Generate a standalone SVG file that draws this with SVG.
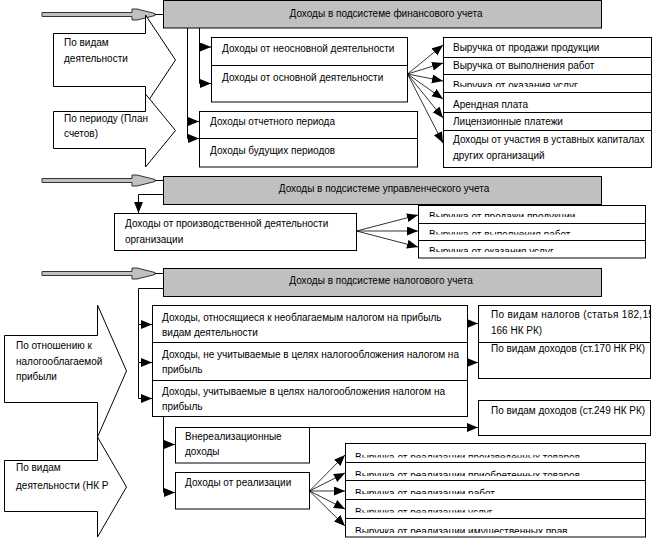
<svg xmlns="http://www.w3.org/2000/svg" width="653" height="543" viewBox="0 0 653 543">
<style>
text{font-family:"Liberation Sans",Arial,sans-serif;font-size:10px;fill:#000}
.hd{text-anchor:middle}
.box{fill:#fff;stroke:#000;stroke-width:1}
.gray{fill:#c0c0c0;stroke:#000;stroke-width:1}
.ln{fill:none;stroke:#000;stroke-width:1}
.fan{fill:none;stroke:#000;stroke-width:0.8}
.big{fill:#c0c0c0;stroke:#333;stroke-width:1}
.arr{marker-end:url(#ah)}
</style>
<defs>
<marker id="ah" markerUnits="userSpaceOnUse" markerWidth="12" markerHeight="10" refX="11" refY="4.5" orient="auto"><path d="M0,0 L11,4.5 L0,9 z" fill="#000"/></marker>
<path id="bigarrow" d="M42,-2 H132 V-5.5 H137 L155,-1 V1 L137,5.5 H132 V2 H42 Z"/>
<clipPath id="c1"><rect x="443" y="74" width="208" height="13"/></clipPath>
<clipPath id="c2a"><rect x="418" y="205" width="227" height="12"/></clipPath>
<clipPath id="c2b"><rect x="418" y="223" width="227" height="11.5"/></clipPath>
<clipPath id="c2c"><rect x="418" y="240" width="227" height="12"/></clipPath>
<clipPath id="c3a"><rect x="345" y="443" width="300" height="14.5"/></clipPath>
<clipPath id="c3b"><rect x="345" y="462" width="300" height="14"/></clipPath>
<clipPath id="c3c"><rect x="345" y="480" width="300" height="14"/></clipPath>
<clipPath id="c3d"><rect x="345" y="499" width="300" height="13.5"/></clipPath>
<clipPath id="c3e"><rect x="345" y="518" width="300" height="15"/></clipPath>
<clipPath id="cR"><rect x="478" y="300" width="172" height="140"/></clipPath>
</defs>

<!-- Section 1 -->
<g id="s1-arrow"><use href="#bigarrow" class="big" transform="translate(0,14.5)"/><line class="ln" x1="155" y1="14.5" x2="163" y2="14.5" stroke="#333"/></g>
<g id="s1-header"><rect class="gray" x="163.5" y="0.5" width="438" height="27.5"/><text class="hd" x="386" y="17">Доходы в подсистеме финансового учета</text></g>
<g id="s1-kind"><path class="box" d="M53.5,33.5 H145.5 V15 L175.5,60 L145.5,105 V86.5 H53.5 Z"/><text x="64" y="46">По видам</text><text x="64" y="62">деятельности</text></g>
<g id="s1-period"><path class="box" d="M53.5,111.5 H145.5 V94 L175.5,130.5 L145.5,167 V148.5 H53.5 Z"/><text x="64" y="122">По периоду (План</text><text x="64" y="137">счетов)</text></g>
<g id="s1-activity"><rect class="box" x="211.5" y="37.5" width="196" height="64.5"/><line class="ln" x1="211.5" y1="65.5" x2="407.5" y2="65.5"/><text x="222" y="52">Доходы от неосновной деятельности</text><text x="222" y="81">Доходы от основной деятельности</text></g>
<g id="s1-periods"><rect class="box" x="199.5" y="111.5" width="218" height="55.5"/><line class="ln" x1="199.5" y1="138.5" x2="417.5" y2="138.5"/><text x="210" y="125">Доходы отчетного периода</text><text x="210" y="154">Доходы будущих периодов</text></g>
<g id="s1-list"><rect class="box" x="443.5" y="37.5" width="208" height="130"/>
<path class="ln" d="M443.5,57.5 H651.5 M443.5,74.5 H651.5 M443.5,92.5 H651.5 M443.5,112.5 H651.5 M443.5,130.5 H651.5"/>
<text x="453" y="51">Выручка от продажи продукции</text>
<text x="453" y="69">Выручка от выполнения работ</text>
<text x="453" y="89" clip-path="url(#c1)">Выручка от оказания услуг</text>
<text x="453" y="108">Арендная плата</text>
<text x="453" y="125">Лицензионные платежи</text>
<text x="453" y="143">Доходы от участия в уставных капиталах</text>
<text x="453" y="159">других организаций</text></g>

<!-- Section 2 -->
<g id="s2-arrow"><use href="#bigarrow" class="big" transform="translate(0,180.5)"/><line class="ln" x1="155" y1="180.5" x2="163" y2="180.5" stroke="#333"/></g>
<g id="s2-header"><rect class="gray" x="163.5" y="176.5" width="438" height="28"/><text class="hd" x="384" y="192">Доходы в подсистеме управленческого учета</text></g>
<g id="s2-prod"><rect class="box" x="114.5" y="213.5" width="242" height="37"/><text x="125" y="227">Доходы от производственной деятельности</text><text x="125" y="243">организации</text></g>
<g id="s2-list"><rect class="box" x="418.5" y="205.5" width="227" height="52.5"/>
<path class="ln" d="M418.5,223.5 H645.5 M418.5,240.5 H645.5"/>
<text x="429" y="220" clip-path="url(#c2a)">Выручка от продажи продукции</text>
<text x="429" y="238" clip-path="url(#c2b)">Выручка от выполнения работ</text>
<text x="429" y="255" clip-path="url(#c2c)">Выручка от оказания услуг</text></g>

<!-- Section 3 -->
<g id="s3-arrow"><use href="#bigarrow" class="big" transform="translate(0,273.5)"/><line class="ln" x1="155" y1="273.5" x2="163" y2="273.5" stroke="#333"/></g>
<g id="s3-header"><rect class="gray" x="163.5" y="268.5" width="438" height="28"/><text class="hd" x="381" y="284">Доходы в подсистеме налогового учета</text></g>
<g id="s3-profit"><path class="box" d="M4.5,335.5 H97.5 V305 L126.5,371 L97.5,437 V402.5 H4.5 Z"/><text x="16" y="349">По отношению к</text><text x="16" y="365">налогооблагаемой</text><text x="16" y="380">прибыли</text></g>
<g id="s3-kind"><path class="box" d="M4.5,460.5 H97.5 V437 L126.5,487 L97.5,537 V511.5 H4.5 Z"/><text x="16" y="471">По видам</text><text x="16" y="489">деятельности (НК Р</text></g>
<g id="s3-tax"><rect class="box" x="152.5" y="305.5" width="315" height="111"/>
<path class="ln" d="M152.5,342.5 H467.5 M152.5,380.5 H467.5"/>
<text x="162" y="321">Доходы, относящиеся к необлагаемым налогом на прибыль</text>
<text x="162" y="336">видам деятельности</text>
<text x="162" y="358">Доходы, не учитываемые в целях налогообложения налогом на</text>
<text x="162" y="373">прибыль</text>
<text x="162" y="395">Доходы, учитываемые в целях налогообложения налогом на</text>
<text x="162" y="410">прибыль</text></g>
<g id="s3-types"><rect class="box" x="478.5" y="305.5" width="172" height="73"/>
<line class="ln" x1="478.5" y1="342.5" x2="650.5" y2="342.5"/>
<g clip-path="url(#cR)"><text x="491" y="318" letter-spacing="0.3">По видам налогов (статья 182,153-</text>
<text x="491" y="334">166 НК РК)</text>
<text x="491" y="352">По видам доходов (ст.170 НК РК)</text></g></g>
<g id="s3-types249"><rect class="box" x="478.5" y="400.5" width="172" height="35"/><text x="491" y="414" clip-path="url(#cR)">По видам доходов (ст.249 НК РК)</text></g>
<g id="s3-nonop"><rect class="box" x="175.5" y="427.5" width="134" height="35.5"/><text x="185" y="440">Внереализационные</text><text x="185" y="455">доходы</text></g>
<g id="s3-sales"><rect class="box" x="175.5" y="472.5" width="134" height="36.5"/><text x="185" y="486">Доходы от реализации</text></g>
<g id="s3-list"><rect class="box" x="345.5" y="443.5" width="300" height="93.5"/>
<path class="ln" d="M345.5,462.5 H645.5 M345.5,480.5 H645.5 M345.5,499.5 H645.5 M345.5,518.5 H645.5"/>
<text x="355" y="461" clip-path="url(#c3a)">Выручка от реализации произведенных товаров</text>
<text x="355" y="479" clip-path="url(#c3b)">Выручка от реализации приобретенных товаров</text>
<text x="355" y="497" clip-path="url(#c3c)">Выручка от реализации работ</text>
<text x="355" y="516" clip-path="url(#c3d)">Выручка от реализации услуг</text>
<text x="355" y="535" clip-path="url(#c3e)">Выручка от реализации имущественных прав</text></g>

<!-- Connectors -->
<g id="connectors">
<path class="ln arr" d="M187.5,28 V121.5 H199"/>
<path class="ln arr" d="M187.5,121.5 V138.5 H199"/>
<path class="ln arr" d="M199.5,28 V47 H211"/>
<path class="ln arr" d="M199.5,47 V83.5 H211"/>
<path class="fan arr" d="M407.5,74 L443,45"/>
<path class="fan arr" d="M407.5,74 L443,63"/>
<path class="fan arr" d="M407.5,74 L443,81"/>
<path class="fan arr" d="M407.5,74 L443,99"/>
<path class="fan arr" d="M407.5,74 L443,118"/>
<path class="fan arr" d="M407.5,74 L443,143"/>
<path class="ln arr" d="M163,194.5 H138.5 V213"/>
<path class="fan arr" d="M356.5,231 L418,215"/>
<path class="fan arr" d="M356.5,231 L418,231"/>
<path class="fan arr" d="M356.5,231 L418,247"/>
<path class="ln arr" d="M163,288.5 H138.5 V324.5 H152"/>
<path class="ln arr" d="M138.5,324.5 V362.5 H152"/>
<path class="ln arr" d="M138.5,362.5 V398.5 H152"/>
<path class="ln arr" d="M467.5,323.5 H478"/>
<path class="ln arr" d="M467.5,362.5 H478"/>
<path class="ln arr" d="M309.5,427.5 H478"/>
<path class="ln arr" d="M163.5,416.5 V444.5 H175"/>
<path class="ln arr" d="M163.5,444.5 V492.5 H175"/>
<path class="fan arr" d="M309.5,491 L345,455"/>
<path class="fan arr" d="M309.5,491 L345,473"/>
<path class="fan arr" d="M309.5,491 L345,491"/>
<path class="fan arr" d="M309.5,491 L345,509"/>
<path class="fan arr" d="M309.5,491 L345,526"/>
</g>
</svg>
